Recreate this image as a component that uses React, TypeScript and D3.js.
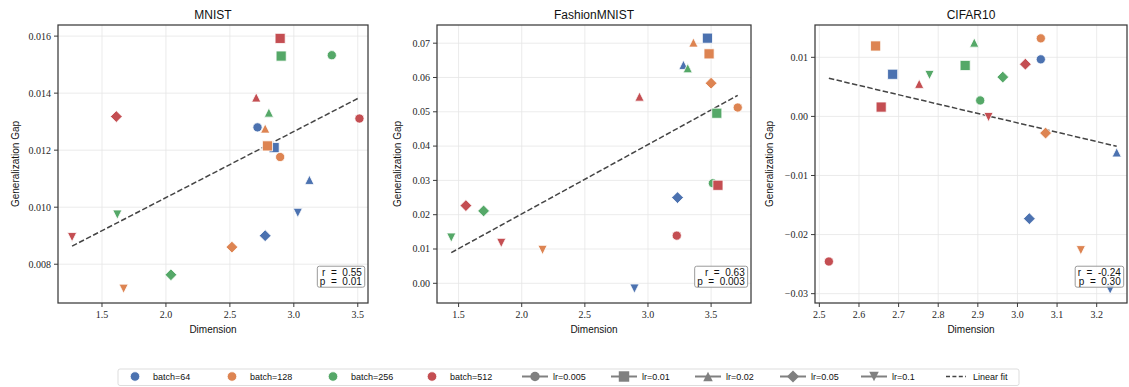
import React, { useEffect, useRef } from "react";
import * as d3 from "d3";

// ---------------- data ----------------
const batches = [64, 128, 256, 512];
const lrs = [0.005, 0.01, 0.02, 0.05, 0.1];
const batchColors = ["#4C72B0", "#DD8452", "#55A868", "#C44E52"];
const lrShapes = ["circle", "square", "triangle", "diamond", "triangleDown"];
const datasetTitles = ["MNIST", "FashionMNIST", "CIFAR10"];

// rows: batch (64,128,256,512); columns: lr (0.005,0.01,0.02,0.05,0.1)
const mnistDim = [
  [2.716, 2.846, 3.122, 2.776, 3.031],
  [2.893, 2.794, 2.776, 2.516, 1.669],
  [3.297, 2.901, 2.805, 2.039, 1.62],
  [3.513, 2.893, 2.706, 1.612, 1.266],
];
const mnistGap = [
  [0.0128, 0.01209, 0.01096, 0.009, 0.0098],
  [0.01176, 0.01215, 0.01276, 0.0086, 0.00714],
  [0.01533, 0.0153, 0.01332, 0.00763, 0.00974],
  [0.01311, 0.01592, 0.01385, 0.01318, 0.00895],
];
const fashionDim = [
  [null, 3.471, 3.281, 3.234, 2.893],
  [3.711, 3.484, 3.36, 3.5, 2.165],
  [3.514, 3.545, 3.315, 1.698, 1.442],
  [3.228, 3.554, 2.933, 1.558, 1.838],
];
const fashionGap = [
  [null, 0.07146, 0.06368, 0.02499, -0.00155],
  [0.05124, 0.06689, 0.0702, 0.05833, 0.00972],
  [0.02917, 0.04958, 0.06271, 0.0211, 0.01332],
  [0.0139, 0.02858, 0.05444, 0.02265, 0.01176],
];
const cifarDim = [
  [3.059, 2.685, 3.2505, 3.03, 3.234],
  [3.059, 2.642, null, 3.071, 3.16],
  [2.906, 2.868, 2.891, 2.963, 2.778],
  [2.524, 2.656, 2.752, 3.02, 2.927],
];
const cifarGap = [
  [0.00966, 0.00713, -0.00608, -0.0173, -0.0293],
  [0.01321, 0.01192, null, -0.00282, -0.02265],
  [0.0027, 0.00862, 0.0125, 0.00665, 0.00701],
  [-0.02456, 0.00158, 0.00552, 0.00884, -0.00011],
];

// linear fit [slope, intercept]
const mnistFit = [0.002318, 0.0057];
const fashionFit = [0.02021, -0.0202];
const cifarFit = [-0.01585, 0.04646];

const mnistStats = ["r = 0.55", "p = 0.01"];
const fashionStats = ["r = 0.63", "p = 0.003"];
const cifarStats = ["r = -0.24", "p = 0.30"];

// axis limits and ticks
const mnistXDomain = [1.156, 3.58];
const mnistYDomain = [0.00664, 0.01639];
const fashionXDomain = [1.329, 3.816];
const fashionYDomain = [-0.00574, 0.0753];
const cifarXDomain = [2.489, 3.2765];
const cifarYDomain = [-0.03158, 0.01547];

const mnistXTicks = [1.5, 2.0, 2.5, 3.0, 3.5];
const mnistYTicks = [0.008, 0.01, 0.012, 0.014, 0.016];
const fashionXTicks = [1.5, 2.0, 2.5, 3.0, 3.5];
const fashionYTicks = [0.0, 0.01, 0.02, 0.03, 0.04, 0.05, 0.06, 0.07];
const cifarXTicks = [2.5, 2.6, 2.7, 2.8, 2.9, 3.0, 3.1, 3.2];
const cifarYTicks = [-0.03, -0.02, -0.01, 0.0, 0.01];

const xTickFormats = [".1f", ".1f", ".1f"];
const yTickFormats = [".3f", ".2f", ".2f"];

const legendLabels = [
  "batch=64",
  "batch=128",
  "batch=256",
  "batch=512",
  "lr=0.005",
  "lr=0.01",
  "lr=0.02",
  "lr=0.05",
  "lr=0.1",
  "Linear fit",
];

// ---------------- layout ----------------
const W = 1129;
const H = 387;
const TOP = 25;
const BOTTOM = 303;
const panelLefts = [58, 437, 815];
const panelRights = [368, 751, 1127];
const yLabelOffsets = [39.5, 36, 42.5];
const legendHandleX = [122, 219, 320, 419, 522, 611, 695, 780, 861, 942];

const SANS = "'Liberation Sans', Arial, sans-serif";
const SERIF = "'Liberation Serif', 'Times New Roman', serif";

function markerPath(shape: string, s: number): string {
  switch (shape) {
    case "circle": {
      const r = s * 0.5;
      return `M${r},0A${r},${r} 0 1,1 ${-r},0A${r},${r} 0 1,1 ${r},0Z`;
    }
    case "square": {
      const h = s * 0.55;
      return `M${-h},${-h}H${h}V${h}H${-h}Z`;
    }
    case "triangle": {
      const h = s * 0.5;
      return `M0,${-h}L${h},${h}L${-h},${h}Z`;
    }
    case "triangleDown": {
      const h = s * 0.5;
      return `M0,${h}L${h},${-h}L${-h},${-h}Z`;
    }
    case "diamond": {
      const h = s * 0.64;
      return `M0,${-h}L${h},0L0,${h}L${-h},0Z`;
    }
  }
  return "";
}

const MARKER_SIZE = 9.2;

export default function App() {
  const ref = useRef<SVGSVGElement | null>(null);

  useEffect(() => {
    const svg = d3.select(ref.current);
    svg.selectAll("*").remove();

    const datasets = [
      { dim: mnistDim, gap: mnistGap, fit: mnistFit, stats: mnistStats, xd: mnistXDomain, yd: mnistYDomain, xt: mnistXTicks, yt: mnistYTicks },
      { dim: fashionDim, gap: fashionGap, fit: fashionFit, stats: fashionStats, xd: fashionXDomain, yd: fashionYDomain, xt: fashionXTicks, yt: fashionYTicks },
      { dim: cifarDim, gap: cifarGap, fit: cifarFit, stats: cifarStats, xd: cifarXDomain, yd: cifarYDomain, xt: cifarXTicks, yt: cifarYTicks },
    ];

    datasets.forEach((ds, pi) => {
      const left = panelLefts[pi];
      const right = panelRights[pi];
      const x = d3.scaleLinear().domain(ds.xd).range([left, right]);
      const y = d3.scaleLinear().domain(ds.yd).range([BOTTOM, TOP]);
      const g = svg.append("g");
      const clipId = `clip${pi}`;
      svg
        .append("defs")
        .append("clipPath")
        .attr("id", clipId)
        .append("rect")
        .attr("x", left)
        .attr("y", TOP)
        .attr("width", right - left)
        .attr("height", BOTTOM - TOP);

      // grid
      g.selectAll(".gx")
        .data(ds.xt)
        .join("line")
        .attr("x1", (d) => x(d))
        .attr("x2", (d) => x(d))
        .attr("y1", TOP)
        .attr("y2", BOTTOM)
        .attr("stroke", "#e6e6e6")
        .attr("stroke-width", 0.8);
      g.selectAll(".gy")
        .data(ds.yt)
        .join("line")
        .attr("x1", left)
        .attr("x2", right)
        .attr("y1", (d) => y(d))
        .attr("y2", (d) => y(d))
        .attr("stroke", "#e6e6e6")
        .attr("stroke-width", 0.8);

      const pts: { x: number; y: number; b: number; l: number }[] = [];
      ds.dim.forEach((row, bi) =>
        row.forEach((v, li) => {
          const gv = ds.gap[bi][li];
          if (v !== null && gv !== null) pts.push({ x: v as number, y: gv as number, b: bi, l: li });
        })
      );

      const plot = g.append("g").attr("clip-path", `url(#${clipId})`);

      // fit line
      const [xmin, xmax] = d3.extent(pts, (p) => p.x) as [number, number];
      const line = d3
        .line<number>()
        .x((d) => x(d))
        .y((d) => y(ds.fit[0] * d + ds.fit[1]));
      plot
        .append("path")
        .attr("d", line([xmin, xmax]))
        .attr("fill", "none")
        .attr("stroke", "#444")
        .attr("stroke-width", 1.5)
        .attr("stroke-dasharray", "5.5,2.4");

      // markers
      plot
        .selectAll(".pt")
        .data(pts)
        .join("path")
        .attr("d", (p) => markerPath(lrShapes[p.l], MARKER_SIZE))
        .attr("transform", (p) => `translate(${x(p.x)},${y(p.y)})`)
        .attr("fill", (p) => batchColors[p.b])
        .attr("stroke", "white")
        .attr("stroke-width", 0.8);

      // spines
      g.append("rect")
        .attr("x", left)
        .attr("y", TOP)
        .attr("width", right - left)
        .attr("height", BOTTOM - TOP)
        .attr("fill", "none")
        .attr("stroke", "#3a3a3a")
        .attr("stroke-width", 1.25);

      // ticks
      const fx = d3.format(xTickFormats[pi]);
      const fy = d3.format(yTickFormats[pi]);
      g.selectAll(".tx")
        .data(ds.xt)
        .join("line")
        .attr("x1", (d) => x(d))
        .attr("x2", (d) => x(d))
        .attr("y1", BOTTOM)
        .attr("y2", BOTTOM + 4)
        .attr("stroke", "#3a3a3a")
        .attr("stroke-width", 1);
      g.selectAll(".txl")
        .data(ds.xt)
        .join("text")
        .attr("x", (d) => x(d))
        .attr("y", BOTTOM + 14.5)
        .attr("text-anchor", "middle")
        .attr("font-family", SERIF)
        .attr("font-size", 10)
        .attr("fill", "#262626")
        .text((d) => fx(d));
      g.selectAll(".ty")
        .data(ds.yt)
        .join("line")
        .attr("x1", left - 4)
        .attr("x2", left)
        .attr("y1", (d) => y(d))
        .attr("y2", (d) => y(d))
        .attr("stroke", "#3a3a3a")
        .attr("stroke-width", 1);
      g.selectAll(".tyl")
        .data(ds.yt)
        .join("text")
        .attr("x", left - 7)
        .attr("y", (d) => y(d) + 3.4)
        .attr("text-anchor", "end")
        .attr("font-family", SERIF)
        .attr("font-size", 10)
        .attr("fill", "#262626")
        .text((d) => fy(d));

      // labels
      g.append("text")
        .attr("x", (left + right) / 2)
        .attr("y", 18.5)
        .attr("text-anchor", "middle")
        .attr("font-family", SANS)
        .attr("font-size", 12)
        .attr("fill", "#111")
        .text(datasetTitles[pi]);
      g.append("text")
        .attr("x", (left + right) / 2)
        .attr("y", 333)
        .attr("text-anchor", "middle")
        .attr("font-family", SANS)
        .attr("font-size", 10)
        .attr("fill", "#111")
        .text("Dimension");
      g.append("text")
        .attr("transform", `translate(${left - yLabelOffsets[pi]},${(TOP + BOTTOM) / 2}) rotate(-90)`)
        .attr("text-anchor", "middle")
        .attr("font-family", SANS)
        .attr("font-size", 10)
        .attr("fill", "#111")
        .text("Generalization Gap");

      // stats box
      const ax = left + (right - left) * 0.98;
      const ay = BOTTOM - (BOTTOM - TOP) * 0.055;
      const box = g.append("g");
      const rect = box.append("rect");
      const texts = box
        .selectAll(".st")
        .data(ds.stats)
        .join("text")
        .attr("x", ax)
        .attr("y", (d, i) => ay - 3 - (ds.stats.length - 1 - i) * 9)
        .attr("text-anchor", "end")
        .attr("font-family", SANS)
        .attr("font-size", 10)
        .attr("fill", "#111")
        .style("white-space", "pre")
        .text((d) => d.replace(" = ", "  =  "));
      let bx0 = Infinity,
        by0 = Infinity,
        bx1 = -Infinity,
        by1 = -Infinity;
      texts.each(function () {
        const bb = (this as SVGTextElement).getBBox();
        bx0 = Math.min(bx0, bb.x);
        by0 = Math.min(by0, bb.y);
        bx1 = Math.max(bx1, bb.x + bb.width);
        by1 = Math.max(by1, bb.y + bb.height);
      });
      rect
        .attr("x", bx0 - 2.5)
        .attr("y", by0 - 0.5)
        .attr("width", bx1 - bx0 + 5)
        .attr("height", by1 - by0 + 1)
        .attr("rx", 2)
        .attr("fill", "white")
        .attr("fill-opacity", 0.8)
        .attr("stroke", "#9a9a9a")
        .attr("stroke-width", 1);
    });

    // legend
    const lg = svg.append("g");
    const LY = 376.5;
    lg.append("rect")
      .attr("x", 122 - 4)
      .attr("y", 369)
      .attr("width", 1019 - 118)
      .attr("height", 16.5)
      .attr("rx", 2)
      .attr("fill", "white")
      .attr("stroke", "#d4d4d4")
      .attr("stroke-width", 0.8);

    legendLabels.forEach((label, i) => {
      const hx = legendHandleX[i];
      if (i < batches.length) {
        lg.append("path")
          .attr("d", markerPath("circle", 9.5))
          .attr("transform", `translate(${hx + 13},${LY})`)
          .attr("fill", batchColors[i])
          .attr("stroke", "white")
          .attr("stroke-width", 0.8);
      } else if (i < batches.length + lrs.length) {
        const li = i - batches.length;
        lg.append("line")
          .attr("x1", hx)
          .attr("x2", hx + 26)
          .attr("y1", LY)
          .attr("y2", LY)
          .attr("stroke", "#808080")
          .attr("stroke-width", 2);
        lg.append("path")
          .attr("d", markerPath(lrShapes[li], 9.5))
          .attr("transform", `translate(${hx + 13},${LY})`)
          .attr("fill", "#808080");
      } else {
        lg.append("line")
          .attr("x1", hx + 4)
          .attr("x2", hx + 24)
          .attr("y1", LY)
          .attr("y2", LY)
          .attr("stroke", "#444")
          .attr("stroke-width", 1.5)
          .attr("stroke-dasharray", "4,2.4");
      }
      lg.append("text")
        .attr("x", hx + 31)
        .attr("y", LY + 3.2)
        .attr("font-family", SANS)
        .attr("font-size", 9)
        .attr("fill", "#111")
        .text(label);
    });
  }, []);

  return (
    <div style={{ position: "absolute", left: 0, top: 0, width: W, height: H, background: "white" }}>
      <svg ref={ref} width={W} height={H} />
    </div>
  );
}
